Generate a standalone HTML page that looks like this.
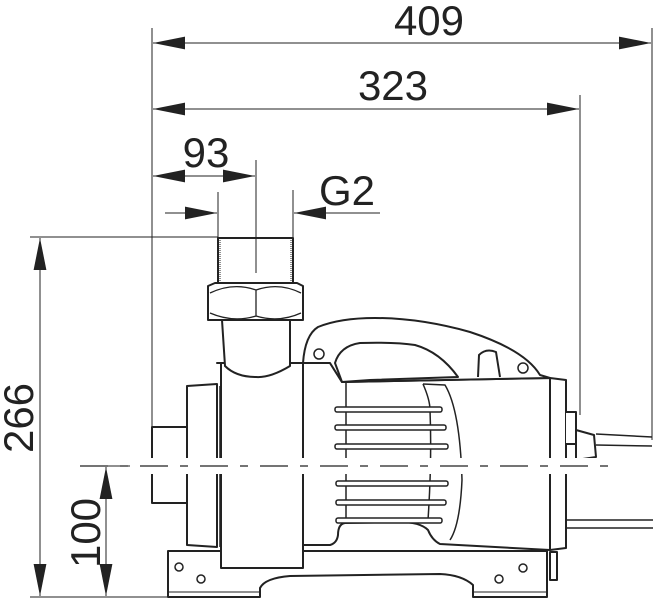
<!DOCTYPE html>
<html><head><style>
html,body{margin:0;padding:0;background:#fff;width:653px;height:600px;overflow:hidden}
svg{display:block}
text{font-family:"Liberation Sans",sans-serif;fill:#222}
</style></head><body>
<svg width="653" height="600" viewBox="0 0 653 600" xmlns="http://www.w3.org/2000/svg">
<defs>
<marker id="a" viewBox="0 0 10 4" refX="10" refY="2" markerWidth="32" markerHeight="13" markerUnits="userSpaceOnUse" orient="auto-start-reverse"><path d="M0,0 L10,2 L0,4z" fill="#222"/></marker>
</defs>
<g stroke="#222" stroke-width="1" fill="none">
<line x1="152" y1="28" x2="152" y2="500"/>
<line x1="580" y1="95" x2="580" y2="415"/>
<line x1="652" y1="28" x2="652" y2="440"/>
<line x1="256" y1="160" x2="256" y2="273"/>
<line x1="218" y1="192" x2="218" y2="240"/>
<line x1="293" y1="190" x2="293" y2="240"/>
<line x1="30" y1="237" x2="218" y2="237"/>
<line x1="30" y1="597" x2="168" y2="597"/>
<line x1="80" y1="466" x2="138" y2="466"/>
<line x1="153" y1="43" x2="651" y2="43" marker-start="url(#a)" marker-end="url(#a)"/>
<line x1="153" y1="109" x2="579" y2="109" marker-start="url(#a)" marker-end="url(#a)"/>
<line x1="153" y1="176" x2="255" y2="176" marker-start="url(#a)" marker-end="url(#a)"/>
<line x1="165" y1="213" x2="217" y2="213" marker-end="url(#a)"/>
<line x1="380" y1="213" x2="294" y2="213" marker-end="url(#a)"/>
<line x1="40" y1="238" x2="40" y2="596" marker-start="url(#a)" marker-end="url(#a)"/>
<line x1="106" y1="467" x2="106" y2="596" marker-start="url(#a)" marker-end="url(#a)"/>
</g>
<text x="429" y="35" font-size="42" text-anchor="middle">409</text>
<text x="393" y="100" font-size="42" text-anchor="middle">323</text>
<text x="206" y="167" font-size="42" text-anchor="middle">93</text>
<text x="347" y="205" font-size="42" text-anchor="middle">G2</text>
<text transform="translate(33,418) rotate(-90)" font-size="42" text-anchor="middle">266</text>
<text transform="translate(100,533) rotate(-90)" font-size="42" text-anchor="middle">100</text>
<g stroke="#222" stroke-width="2" fill="#fff" stroke-linejoin="round">
<path d="M168,551 L547,551 L547,597 L473,597 L473,585 Q462,575 440,574 L290,576 Q265,578 260,588 L260,597 L168,597 Z"/>
<line x1="168" y1="592" x2="260" y2="592" stroke-width="1"/>
<line x1="473" y1="592" x2="547" y2="592" stroke-width="1"/>
<path d="M152,427 L187,427 L187,503 L152,503 Z"/>
<path d="M187,386 L217,384 L217,547 L187,545 Z"/>
<path d="M303,363 L330,363 L342,382 L550,378 L550,550 L440,544 Q432,540 428,530 Q420,522 400,522 L345,523 Q338,524 338,535 Q337,543 330,545 L303,545 Z"/>
<path d="M303,363 Q305,335 318,327 Q340,318 375,318 Q420,318 470,332 Q525,350 540,375 L550,378 L342,382 L330,363 Z"/>
<path d="M335,363 Q340,346 360,343 Q395,342 415,345 Q440,352 458,377 L370,380 L342,382 Z" fill="#fff"/>
<path d="M478,377 L479,355 Q486,348 496,352 L500,377" />
<circle cx="319" cy="354" r="5" stroke-width="1.5"/>
<circle cx="523" cy="368" r="5" stroke-width="1.5"/>
<path d="M217,363 L303,363 L303,568 L221,568 L221,363 Z"/>
<line x1="220" y1="386" x2="220" y2="547" stroke-width="1.5"/>
<path d="M222,320 L290,320 L290,366 Q270,378 256,377 Q236,377 225,366 Z"/>
<path d="M208,286 L215,283 L297,283 L303,286 L303,320 L208,320 Z"/>
<path d="M210,293 Q233,282 256,290 Q279,282 301,293 M210,313 Q233,323 256,316 Q279,323 301,313 M256,290 L256,316" fill="none" stroke-width="1.3"/>
<path d="M218,238 L293,238 L293,283 L218,283 Z" fill="none"/>
<path d="M220,240 L220,281 M291,240 L291,281" stroke-width="1" stroke-dasharray="1,1"/>
<path d="M550,378 L566,380 L566,548 L550,550 Z"/>
<path d="M566,412 L576,412 L576,444 L566,444"/>
<path d="M576,430 L594,435 L596,457 L576,460 Z"/>
<path d="M596,434 L652,437 M596,445 L652,446" stroke-width="1.5"/>
<path d="M566,520 L653,520 M566,528 L653,528" stroke-width="1.5"/>
<rect x="550" y="552" width="7" height="28"/>
<path d="M423,384 L445,385 Q460,410 462,480 Q460,525 450,540" fill="none" stroke-width="1.5"/>
<path d="M423,384 Q430,400 430,410 Q432,460 428,520" fill="none" stroke-width="1.5"/>
<line x1="346" y1="383" x2="346" y2="520" stroke-width="1.5"/>
</g>
<g stroke="#222" stroke-width="1.5" fill="#fff">
<rect x="335" y="407" width="107" height="5" rx="2"/>
<rect x="335" y="425" width="111" height="5" rx="2"/>
<rect x="335" y="444" width="113" height="5" rx="2"/>
<rect x="336" y="481" width="112" height="5" rx="2"/>
<rect x="336" y="500" width="110" height="5" rx="2"/>
<rect x="336" y="518" width="106" height="5" rx="2"/>
<circle cx="179" cy="567" r="4"/><circle cx="201" cy="579" r="4"/>
<circle cx="499" cy="579" r="4"/><circle cx="523" cy="568" r="4"/>
</g>
<rect x="130" y="458" width="480" height="16" fill="#fff"/>
<line x1="80" y1="466" x2="610" y2="466" stroke="#222" stroke-width="1.3" stroke-dasharray="28,12,8,12"/>
</svg>
</body></html>
